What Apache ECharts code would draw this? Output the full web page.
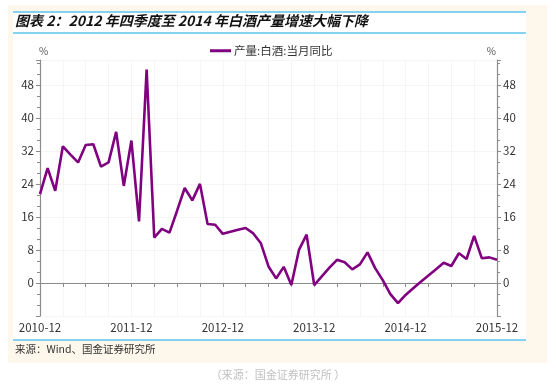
<!DOCTYPE html>
<html><head><meta charset="utf-8">
<script src="https://cdn.jsdelivr.net/npm/echarts@6/dist/echarts.min.js"></script>
<style>html,body{margin:0;padding:0;background:#fff;}#c{width:556px;height:388px;}</style>
</head><body><div id="c"></div>
<script>
var startYear = 2010, startMonth = 12, monthCount = 61;
var categories = [];
(function(){ var y = startYear, m = startMonth; for (var i = 0; i < monthCount; i++) { categories.push(y + '-' + (m < 10 ? '0' + m : '' + m)); m++; if (m > 12) { m = 1; y++; } } })();
var seriesName = '产量:白酒:当月同比';
var values = [21.5, 27.8, 22.3, 33.1, 31.1, 29.2, 33.4, 33.6, 28.2, 29.2, 36.6, 23.5, 34.5,
  14.9, 51.7, 11.0, 13.1, 12.2, 17.5, 23.0, 20.0, 24.0, 14.3, 14.1, 11.9,
  12.4, 12.9, 13.3, 12.0, 9.6, 4.0, 1.1, 3.9, -0.5, 8.0, 11.7, -0.5,
  1.6, 3.7, 5.6, 5.0, 3.3, 4.5, 7.4, 3.6, 0.7, -2.7, -4.9, -2.9,
  -1.3, 0.3, 1.8, 3.3, 4.9, 4.1, 7.2, 5.8, 11.4, 6.0, 6.2, 5.6];
var yTickLabels = [0, 8, 16, 24, 32, 40, 48];
var titleText = '图表 2：2012 年四季度至 2014 年白酒产量增速大幅下降';
var sourceText = '来源：Wind、国金证券研究所';
var footText = '（来源：国金证券研究所 ）';

var chart = echarts.init(document.getElementById('c'), null, {renderer: 'canvas'});
var font = '"Noto Sans CJK SC", "Noto Sans", sans-serif';
var axisColor = '#8c8c8c';
function yAxisCfg(pos) {
  return {
    type: 'value', position: pos, min: -8, max: 54, interval: 8,
    name: '%', nameLocation: 'end', nameGap: 4,
    nameTextStyle: {color: '#555', fontSize: 10, fontFamily: font, align: pos === 'left' ? 'left' : 'right', padding: pos === 'left' ? [0,0,0,-1] : [0,1,0,0]},
    axisLine: {show: true, lineStyle: {color: axisColor, width: 1.2}},
    axisTick: {show: true, length: 4, lineStyle: {color: axisColor}},
    minorTick: {show: true, splitNumber: 3, length: 3, lineStyle: {color: axisColor}},
    axisLabel: {color: '#333', fontSize: 11.5, fontFamily: font, margin: 6, showMinLabel: false, showMaxLabel: false,
      formatter: function(v){ return yTickLabels.indexOf(v) >= 0 ? String(v) : ''; }},
    splitLine: {show: pos === 'left', lineStyle: {color: '#f5f5f5', width: 1}}
  };
}
chart.setOption({
  backgroundColor: '#ffffff',
  animation: false,
  graphic: [
    {type: 'rect', z: -10, shape: {x: 8, y: 5, width: 539, height: 358}, style: {fill: '#fef8ec'}, silent: true},
    {type: 'rect', z: -9, shape: {x: 13, y: 12, width: 513, height: 328}, style: {fill: '#ffffff'}, silent: true},
    {type: 'line', z: 5, shape: {x1: 13, y1: 12, x2: 526, y2: 12}, style: {stroke: '#5cc3ec', lineWidth: 1.5}},
    {type: 'line', z: 5, shape: {x1: 13, y1: 33, x2: 526, y2: 33}, style: {stroke: '#5cc3ec', lineWidth: 1.5}},
    {type: 'line', z: 5, shape: {x1: 13, y1: 340, x2: 526, y2: 340}, style: {stroke: '#5cc3ec', lineWidth: 1.5}},
    {type: 'text', z: 5, left: 15, top: 14, style: {text: titleText, fill: '#111', font: 'italic bold 14px ' + font}},
    {type: 'text', z: 5, left: 15, top: 344, style: {text: sourceText, fill: '#333', font: '10.5px ' + font}},
    {type: 'text', z: 5, left: 'center', top: 369, style: {text: footText, fill: '#c0c0c0', font: '11px ' + font}}
  ],
  legend: {
    show: true, left: 205, top: 40, icon: 'rect', itemWidth: 21, itemHeight: 3, itemGap: 5,
    textStyle: {color: '#333', fontSize: 11.5, fontFamily: font, padding: [0,0,0,-2]},
    data: [seriesName]
  },
  grid: {left: 40, right: 59, top: 60, bottom: 72, containLabel: false},
  xAxis: {
    type: 'category', data: categories, boundaryGap: false,
    axisLine: {lineStyle: {color: axisColor, width: 1.2}},
    axisTick: {show: true, interval: 2, length: 4, lineStyle: {color: axisColor}},
    axisLabel: {interval: 11, color: '#333', fontSize: 11.5, fontFamily: font, margin: 6, showMaxLabel: true},
    splitLine: {show: true, interval: 2, lineStyle: {color: '#f5f5f5', width: 1}}
  },
  yAxis: [yAxisCfg('left'), yAxisCfg('right')],
  series: [{
    name: seriesName, type: 'line', data: values, yAxisIndex: 0,
    symbol: 'none', smooth: false,
    lineStyle: {color: '#800080', width: 2.6},
    itemStyle: {color: '#800080'}
  }, {
    type: 'line', data: [], yAxisIndex: 1
  }]
});
</script></body></html>
